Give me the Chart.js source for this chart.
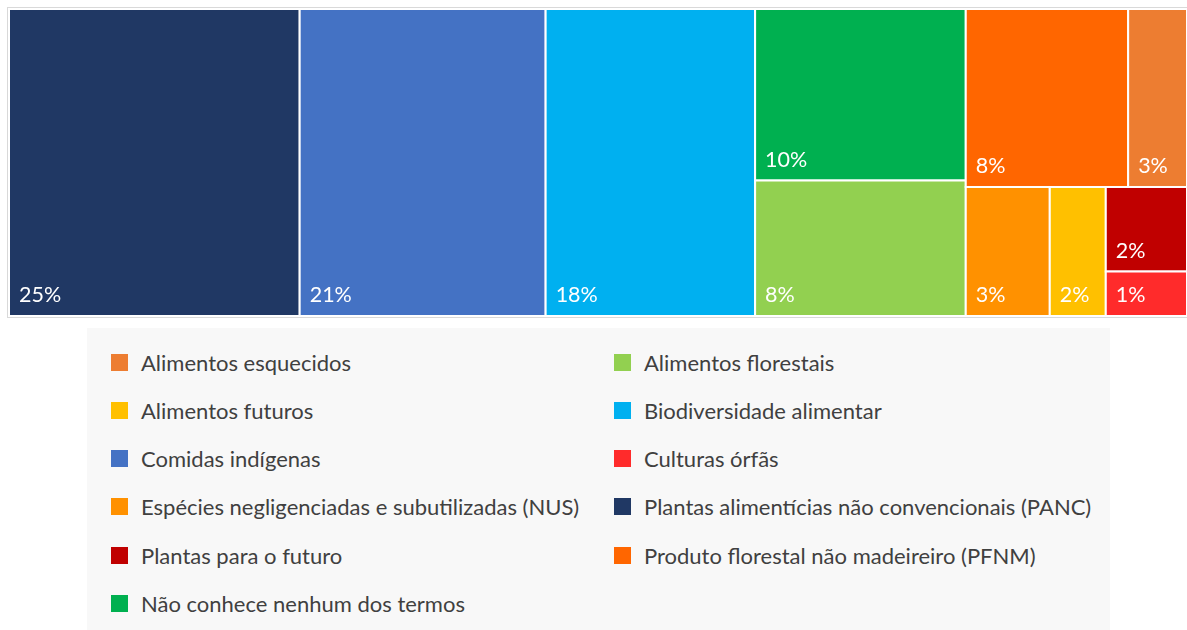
<!DOCTYPE html>
<html>
<head>
<meta charset="utf-8">
<script src="https://cdn.jsdelivr.net/npm/chart.js@4.4.1/dist/chart.umd.min.js"></script>
<style>
  html, body { margin: 0; padding: 0; background: #ffffff; }
  body { width: 1187px; height: 630px; overflow: hidden; position: relative; font-family: Lato, "Open Sans", sans-serif; }
  #wrap { position: absolute; left: 0; top: 0; width: 1187px; height: 322px; }
  #legend {
    position: absolute; left: 87px; top: 328px; width: 1023px; height: 310px;
    background: #f8f8f8;
  }
  .item { position: absolute; height: 28px; display: flex; align-items: center; }
  .sw { width: 17px; height: 17px; margin-right: 13px; flex: none; }
  .tx { font-size: 22px; color: #404040; white-space: nowrap; }
</style>
</head>
<body>
<div id="wrap"><canvas id="c"></canvas></div>
<div id="legend"></div>
<script>
// ---- data (legend order) ----
const categories = [
  "Alimentos esquecidos",
  "Alimentos florestais",
  "Alimentos futuros",
  "Biodiversidade alimentar",
  "Comidas indígenas",
  "Culturas órfãs",
  "Espécies negligenciadas e subutilizadas (NUS)",
  "Plantas alimentícias não convencionais (PANC)",
  "Plantas para o futuro",
  "Produto florestal não madeireiro (PFNM)",
  "Não conhece nenhum dos termos"
];
const values = [2.9, 7.9, 2.0, 17.8, 20.9, 1.0, 3.0, 24.7, 1.9, 8.0, 10.0];
const colors = ["#ED7D31", "#92D050", "#FFC000", "#00B0F0", "#4472C4", "#FF2B2B",
                "#FF9100", "#203864", "#C00000", "#FF6600", "#00B050"];
// grouping of the cells (indices into categories), alternating split direction
const layoutTree = [7, 4, 3, [10, 1], [[9, 0], [6, 2, [8, 5]]]];

// ---- treemap layout in data space ----
function sumNode(n) { return Array.isArray(n) ? n.reduce((s, c) => s + sumNode(c), 0) : values[n]; }
function layout(node, x0, x1, y0, y1, horiz, out) {
  if (!Array.isArray(node)) { out.push({ i: node, x0, x1, y0, y1 }); return out; }
  const tot = sumNode(node);
  let acc = 0;
  node.forEach(ch => {
    const s = sumNode(ch);
    if (horiz) {
      const a = x0 + (x1 - x0) * acc / tot, b = x0 + (x1 - x0) * (acc + s) / tot;
      layout(ch, a, b, y0, y1, !horiz, out);
    } else {
      const a = y0 + (y1 - y0) * acc / tot, b = y0 + (y1 - y0) * (acc + s) / tot;
      layout(ch, x0, x1, a, b, !horiz, out);
    }
    acc += s;
  });
  return out;
}
const total = sumNode(layoutTree);
const cells = layout(layoutTree, 0, total, 0, 1, true, []);

const treemapPlugin = {
  id: 'treemapCells',
  beforeDatasetsDraw(chart) {
    const ctx = chart.ctx, xs = chart.scales.x, ys = chart.scales.y;
    ctx.save();
    // light outline around the plot
    const L = xs.getPixelForValue(0), R = xs.getPixelForValue(total);
    const T = ys.getPixelForValue(0), B = ys.getPixelForValue(1);
    ctx.strokeStyle = '#d9d9d9';
    ctx.lineWidth = 1;
    ctx.strokeRect(L - 1.5, T - 1.5, R - L + 3, B - T + 3);
    cells.forEach(c => {
      const px0 = xs.getPixelForValue(c.x0), px1 = xs.getPixelForValue(c.x1);
      const py0 = ys.getPixelForValue(c.y0), py1 = ys.getPixelForValue(c.y1);
      ctx.fillStyle = colors[c.i];
      ctx.fillRect(px0, py0, px1 - px0, py1 - py0);
      ctx.strokeStyle = '#ffffff';
      ctx.lineWidth = 2;
      ctx.strokeRect(px0, py0, px1 - px0, py1 - py0);
      ctx.fillStyle = '#ffffff';
      ctx.font = '21.5px Lato, "Open Sans", sans-serif';
      ctx.textBaseline = 'alphabetic';
      ctx.textAlign = 'left';
      ctx.fillText(Math.round(values[c.i]) + '%', px0 + 10, py1 - 14);
    });
    ctx.restore();
  }
};

new Chart(document.getElementById('c'), {
  type: 'scatter',
  data: {
    datasets: [{
      data: cells.map(c => ({ x: (c.x0 + c.x1) / 2, y: (c.y0 + c.y1) / 2 })),
      pointRadius: 0
    }]
  },
  options: {
    responsive: true,
    maintainAspectRatio: false,
    animation: false,
    layout: { padding: { left: 9, right: 0, top: 9, bottom: 6 } },
    scales: {
      x: { type: 'linear', min: 0, max: total, display: false },
      y: { type: 'linear', min: 0, max: 1, reverse: true, display: false }
    },
    plugins: { legend: { display: false }, tooltip: { enabled: false } }
  },
  plugins: [treemapPlugin]
});

// ---- legend ----
const leg = document.getElementById('legend');
categories.forEach((name, k) => {
  const row = Math.floor(k / 2), col = k % 2;
  const d = document.createElement('div');
  d.className = 'item';
  d.style.left = (col === 0 ? 24 : 527) + 'px';
  d.style.top = (34 - 14 + row * 48.3) + 'px';
  d.innerHTML = '<span class="sw" style="background:' + colors[k] + '"></span><span class="tx"></span>';
  d.querySelector('.tx').textContent = name;
  leg.appendChild(d);
});
</script>
</body>
</html>
